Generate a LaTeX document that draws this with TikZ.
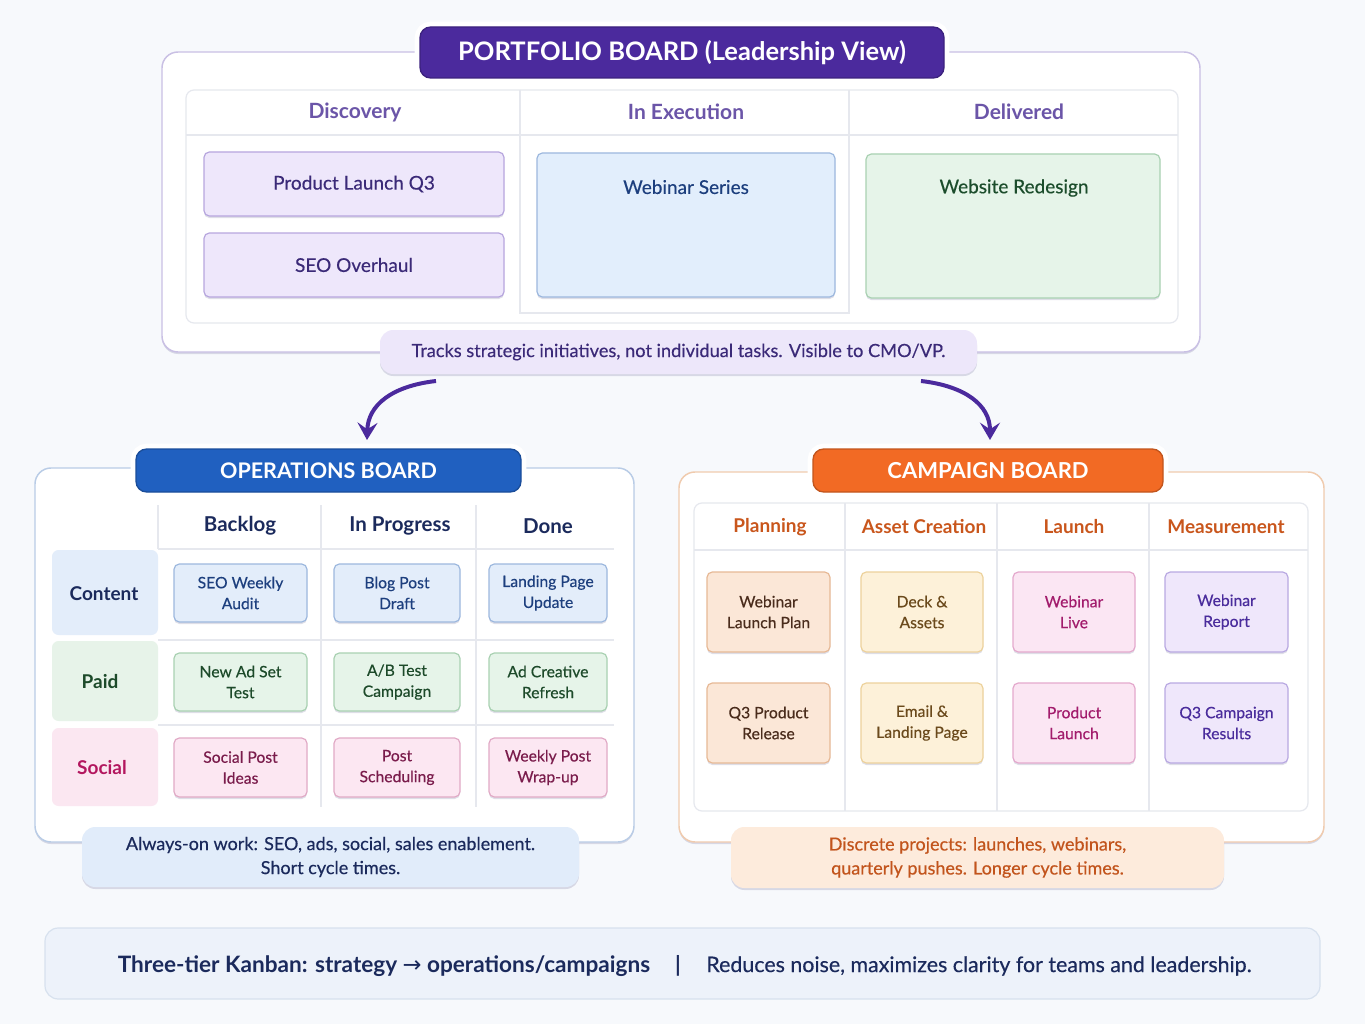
\documentclass[tikz,border=0pt]{standalone}
\usepackage{fontspec}
\setmainfont{Lato}[UprightFeatures={FakeBold=0.4}]
\newfontfamily\symfont{DejaVu Sans}
\usetikzlibrary{shadows,arrows.meta,calc}
\newcommand\px[1]{\fontsize{\fpeval{#1*0.75}pt}{\fpeval{#1*1.0}pt}\selectfont}
\definecolor{bgc}{HTML}{F7F9FC}
\definecolor{pfborder}{HTML}{C9C0E4}
\definecolor{pfpurple}{HTML}{4B2A9D}
\definecolor{pfhead}{HTML}{6B55A8}
\definecolor{pcardfill}{HTML}{EEE7FB}
\definecolor{pcarddraw}{HTML}{B7A6DE}
\definecolor{pcardtext}{HTML}{3B2A78}
\definecolor{bcardfill}{HTML}{E2EEFC}
\definecolor{bcarddraw}{HTML}{9DB8DE}
\definecolor{bcardtext}{HTML}{1D3F7E}
\definecolor{gcardfill}{HTML}{E6F4E9}
\definecolor{gcarddraw}{HTML}{A9D1B2}
\definecolor{gcardtext}{HTML}{1C4D2C}
\definecolor{pfnotefill}{HTML}{EDE7FA}
\definecolor{opsborder}{HTML}{B9CCE6}
\definecolor{opsblue}{HTML}{2060C0}
\definecolor{navy}{HTML}{1B2A5C}
\definecolor{rowblue}{HTML}{E3EDFA}
\definecolor{rowgreen}{HTML}{E7F3E9}
\definecolor{rowpink}{HTML}{FBE7F1}
\definecolor{greentext}{HTML}{1D4A2A}
\definecolor{pinklabel}{HTML}{B3175F}
\definecolor{pinktext}{HTML}{7A1C4C}
\definecolor{pinkfill}{HTML}{FCE7F2}
\definecolor{pinkdraw}{HTML}{E1AAC6}
\definecolor{cmpborder}{HTML}{F0CBAE}
\definecolor{cmporange}{HTML}{F26A24}
\definecolor{orangehead}{HTML}{C9561C}
\definecolor{planfill}{HTML}{FBE7D7}
\definecolor{plandraw}{HTML}{E7B996}
\definecolor{plantext}{HTML}{4A2C1C}
\definecolor{assetfill}{HTML}{FDF1D9}
\definecolor{assetdraw}{HTML}{EDD29C}
\definecolor{assettext}{HTML}{6B4A1C}
\definecolor{launchfill}{HTML}{FBE6F3}
\definecolor{launchdraw}{HTML}{E4A9CD}
\definecolor{launchtext}{HTML}{A21C6C}
\definecolor{measfill}{HTML}{EFE7FB}
\definecolor{measdraw}{HTML}{B9A9E2}
\definecolor{meastext}{HTML}{4A2C9C}
\definecolor{opsnotefill}{HTML}{E1ECFA}
\definecolor{cmpnotefill}{HTML}{FDEBDC}
\definecolor{cmpnotetext}{HTML}{C2541C}
\definecolor{banfill}{HTML}{EDF2FA}
\definecolor{bandraw}{HTML}{D7E1EE}
\definecolor{gridc}{HTML}{E6E8EE}
\newcommand\bx[7]{%
  \pgfmathsetmacro\bxcx{(#3+#5)/2}\pgfmathsetmacro\bxcy{(#4+#6)/2}%
  \pgfmathsetmacro\bxw{(#5-#3)*0.75}\pgfmathsetmacro\bxh{(#6-#4)*0.75}%
  \node[#2, minimum width=\bxw pt, minimum height=\bxh pt, inner sep=0pt] (#1) at (\bxcx,\bxcy) {#7};}
\tikzset{
  softshadow/.style={drop shadow={shadow xshift=0pt, shadow yshift=-1.5pt, opacity=0.13, fill=black!70!blue}},
  outerbox/.style={draw=#1, line width=1.1pt, fill=white, rounded corners=12pt, softshadow},
  titlebox/.style={draw=#1!80!black, line width=1pt, fill=#1, rounded corners=8pt, text=white,
     font=\px{22}\bfseries, softshadow, preaction={draw=white, line width=8pt}},
  tablebox/.style={draw=gridc, line width=0.9pt, fill=white, rounded corners=6pt},
  gridline/.style={draw=gridc, line width=0.9pt},
  card/.style n args={3}{draw=#2, fill=#1, text=#3, line width=0.9pt, rounded corners=4pt, softshadow, align=center},
  notebox/.style n args={2}{fill=#1, text=#2, rounded corners=10pt, softshadow, align=center, font=\px{18}},
  rowlab/.style={fill=#1, rounded corners=5pt},
  bigarrow/.style={draw=pfpurple, line width=3pt, -{Stealth[length=13pt, width=15pt, inset=5pt]}},
  hdr/.style={font=\px{21}\bfseries},
  oc/.style={font=\px{15.7}},
}
\begin{document}
\begin{tikzpicture}[x=0.75pt, y=-0.75pt]
\fill[bgc] (0,0) rectangle (1365,1024);
\useasboundingbox (0,0) rectangle (1365,1024);

% ---------------- PORTFOLIO ----------------
\bx{pf}{outerbox=pfborder}{162}{52}{1200}{352}{}
\bx{pftab}{tablebox}{186}{90}{1178}{323}{}
\draw[gridline] (186,135) -- (1178,135);
\draw[gridline] (520,90) -- (520,313) -- (849,313) -- (849,90);
\node[hdr, text=pfhead] (h1) at (355,112) {Discovery};
\node[hdr, text=pfhead] (h2) at (686,112) {In Execution};
\node[hdr, text=pfhead] (h3) at (1019,112) {Delivered};
\bx{pc1}{card={pcardfill}{pcarddraw}{pcardtext}, font=\px{19}}{204}{152}{504}{216}{Product Launch Q3}
\bx{pc2}{card={pcardfill}{pcarddraw}{pcardtext}, font=\px{19}}{204}{233}{504}{297}{SEO Overhaul}
\bx{pc3}{card={bcardfill}{bcarddraw}{bcardtext}}{537}{153}{835}{297}{}
\node[text=bcardtext, font=\px{19}] (pc3t) at (686,187) {Webinar Series};
\bx{pc4}{card={gcardfill}{gcarddraw}{gcardtext}}{866}{154}{1160}{298}{}
\node[text=gcardtext, font=\px{19}] (pc4t) at (1014,188) {Website Redesign};
\bx{pft}{titlebox=pfpurple, font=\px{25.5}\bfseries}{420}{27}{944}{78}{PORTFOLIO BOARD (Leadership View)}
\bx{pfn}{notebox={pfnotefill}{pcardtext}, font=\px{18.2}}{380}{330}{977}{374}{Tracks strategic initiatives, not individual tasks. Visible to CMO/VP.}

% ---------------- ARROWS ----------------
\coordinate (a1s) at (436,381);
\coordinate (a1e) at (367,440);
\coordinate (a2s) at (921,381);
\coordinate (a2e) at (990,440);
\draw[bigarrow] (a1s) .. controls (392,386) and (368,405) .. (a1e);
\draw[bigarrow] (a2s) .. controls (965,386) and (990,405) .. (a2e);

% ---------------- OPERATIONS ----------------
\bx{ops}{outerbox=opsborder}{35}{468}{634}{842}{}
\bx{rc}{rowlab=rowblue}{52}{550}{158}{635}{}
\bx{rp}{rowlab=rowgreen}{52}{641}{158}{721}{}
\bx{rs}{rowlab=rowpink}{52}{728}{158}{806}{}
\node[hdr, font=\px{19}\bfseries, text=navy] (lc) at (104,594) {Content};
\node[hdr, font=\px{19}\bfseries, text=greentext] (lp) at (100,682) {Paid};
\node[hdr, font=\px{19}\bfseries, text=pinklabel] (ls) at (102,768) {Social};
\draw[gridline] (158,505) -- (158,549);
\draw[gridline] (158,549) -- (614,549);
\draw[gridline] (158,640) -- (614,640);
\draw[gridline] (158,725) -- (614,725);
\draw[gridline] (321,505) -- (321,807);
\draw[gridline] (476,505) -- (476,807);
\node[hdr, font=\px{20.5}\bfseries, text=navy] (oh1) at (240,526) {Backlog};
\node[hdr, font=\px{20.5}\bfseries, text=navy] (oh2) at (400,526) {In Progress};
\node[hdr, font=\px{20.5}\bfseries, text=navy] (oh3) at (548,526) {Done};
\bx{o11}{card={rowblue}{bcarddraw}{bcardtext}, oc}{174}{564}{307}{622}{SEO Weekly\\Audit}
\bx{o12}{card={rowblue}{bcarddraw}{bcardtext}, oc}{334}{564}{460}{622}{Blog Post\\Draft}
\bx{o13}{card={rowblue}{bcarddraw}{bcardtext}, oc}{489}{564}{607}{622}{Landing Page\\Update}
\bx{o21}{card={gcardfill}{gcarddraw}{greentext}, oc}{174}{653}{307}{711}{New Ad Set\\Test}
\bx{o22}{card={gcardfill}{gcarddraw}{greentext}, oc}{334}{653}{460}{711}{A/B Test\\Campaign}
\bx{o23}{card={gcardfill}{gcarddraw}{greentext}, oc}{489}{653}{607}{711}{Ad Creative\\Refresh}
\bx{o31}{card={pinkfill}{pinkdraw}{pinktext}, oc}{174}{738}{307}{797}{Social Post\\Ideas}
\bx{o32}{card={pinkfill}{pinkdraw}{pinktext}, oc}{334}{738}{460}{797}{Post\\Scheduling}
\bx{o33}{card={pinkfill}{pinkdraw}{pinktext}, oc}{489}{738}{607}{797}{Weekly Post\\Wrap-up}
\bx{opst}{titlebox=opsblue, font=\px{21.5}\bfseries}{136}{449}{521}{492}{OPERATIONS BOARD}
\bx{opsn}{notebox={opsnotefill}{navy}}{82}{827}{579}{887}{Always-on work: SEO, ads, social, sales enablement.\\Short cycle times.}

% ---------------- CAMPAIGN ----------------
\bx{cmp}{outerbox=cmpborder}{679}{472}{1324}{842}{}
\bx{cmptab}{tablebox}{694}{503}{1308}{811}{}
\draw[gridline] (694,550) -- (1308,550);
\draw[gridline] (845,503) -- (845,811);
\draw[gridline] (997,503) -- (997,811);
\draw[gridline] (1149,503) -- (1149,811);
\node[hdr, font=\px{19}\bfseries, text=orangehead] (ch1) at (770,527) {Planning};
\node[hdr, font=\px{19}\bfseries, text=orangehead] (ch2) at (924,527) {Asset Creation};
\node[hdr, font=\px{19}\bfseries, text=orangehead] (ch3) at (1074,527) {Launch};
\node[hdr, font=\px{19}\bfseries, text=orangehead] (ch4) at (1226,527) {Measurement};
\bx{k11}{card={planfill}{plandraw}{plantext}, oc}{707}{572}{830}{652}{Webinar\\Launch Plan}
\bx{k12}{card={assetfill}{assetdraw}{assettext}, oc}{861}{572}{983}{652}{Deck \&\\Assets}
\bx{k13}{card={launchfill}{launchdraw}{launchtext}, oc}{1013}{572}{1135}{652}{Webinar\\Live}
\bx{k14}{card={measfill}{measdraw}{meastext}, oc}{1165}{572}{1288}{652}{Webinar\\Report}
\bx{k21}{card={planfill}{plandraw}{plantext}, oc}{707}{683}{830}{763}{Q3 Product\\Release}
\bx{k22}{card={assetfill}{assetdraw}{assettext}, oc}{861}{683}{983}{763}{Email \&\\Landing Page}
\bx{k23}{card={launchfill}{launchdraw}{launchtext}, oc}{1013}{683}{1135}{763}{Product\\Launch}
\bx{k24}{card={measfill}{measdraw}{meastext}, oc}{1165}{683}{1288}{763}{Q3 Campaign\\Results}
\bx{cmpt}{titlebox=cmporange, font=\px{22}\bfseries}{813}{449}{1163}{492}{CAMPAIGN BOARD}
\bx{cmpn}{notebox={cmpnotefill}{cmpnotetext}}{731}{827}{1224}{888}{Discrete projects: launches, webinars,\\quarterly pushes. Longer cycle times.}

% ---------------- BANNER ----------------
\bx{ban}{draw=bandraw, fill=banfill, line width=0.9pt, rounded corners=10pt}{45}{928}{1320}{999}{}
\node[text=navy, font=\px{22.6}\bfseries] (b1) at (384,966) {Three-tier Kanban: strategy {\symfont\mdseries →} operations/campaigns};
\node[text=navy, font=\px{22}\bfseries] (b2) at (678,966) {|};
\node[text=navy, font=\px{21.4}] (b3) at (979,966) {Reduces noise, maximizes clarity for teams and leadership.};
\end{tikzpicture}
\end{document}
